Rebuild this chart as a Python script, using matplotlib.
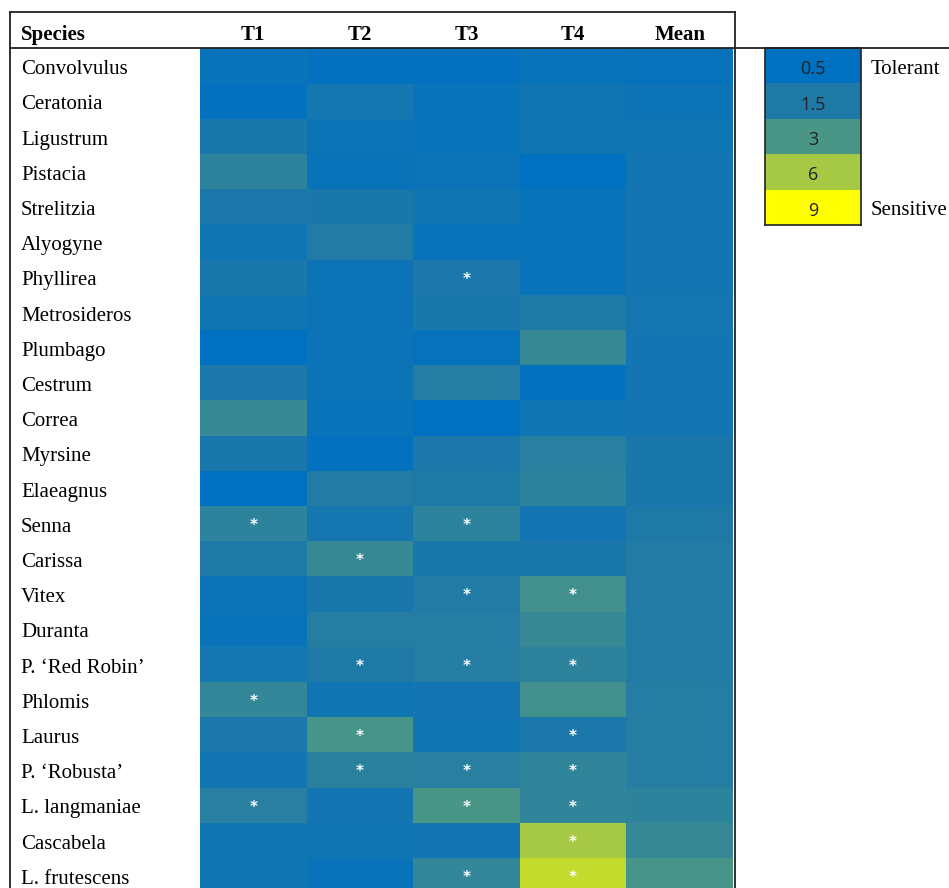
import numpy as np
import matplotlib
matplotlib.use("Agg")
import matplotlib.pyplot as plt
from matplotlib.colors import LinearSegmentedColormap, Normalize
from matplotlib.lines import Line2D

# Sensitivity scores per species for four treatments plus their mean
species = ["Convolvulus", "Ceratonia", "Ligustrum", "Pistacia", "Strelitzia",
           "Alyogyne", "Phyllirea", "Metrosideros", "Plumbago", "Cestrum",
           "Correa", "Myrsine", "Elaeagnus", "Senna", "Carissa", "Vitex",
           "Duranta", "P. \u2018Red Robin\u2019", "Phlomis", "Laurus",
           "P. \u2018Robusta\u2019", "L. langmaniae", "Cascabela", "L. frutescens"]
columns = ["T1", "T2", "T3", "T4", "Mean"]

t1 = [0.8, 0.6, 1.3, 2.0, 1.4, 1.0, 1.3, 1.0, 0.5, 1.4, 2.3, 1.3,
      0.4, 2.0, 1.5, 0.9, 0.8, 1.2, 2.2, 1.4, 1.1, 1.8, 1.0, 1.0]
t2 = [0.6, 1.2, 0.9, 0.8, 1.3, 1.6, 0.9, 0.9, 0.9, 0.9, 0.8, 0.6,
      1.6, 1.2, 2.3, 1.3, 1.7, 1.5, 1.0, 2.9, 1.9, 1.1, 1.0, 0.8]
t3 = [0.6, 0.8, 0.8, 0.9, 1.0, 0.8, 1.4, 1.3, 0.7, 1.7, 0.5, 1.4,
      1.5, 2.0, 1.3, 1.6, 1.7, 1.7, 1.1, 1.0, 1.8, 3.0, 1.1, 2.2]
t4 = [0.8, 1.0, 1.0, 0.5, 0.8, 0.8, 0.8, 1.5, 2.3, 0.6, 1.0, 1.8,
      2.0, 1.1, 1.3, 2.7, 2.3, 2.0, 2.7, 1.4, 2.1, 2.1, 6.0, 7.0]
mean = [0.7, 0.9, 1.0, 1.1, 1.1, 1.1, 1.1, 1.2, 1.1, 1.1, 1.1, 1.3,
        1.3, 1.5, 1.6, 1.6, 1.6, 1.6, 1.7, 1.7, 1.7, 2.0, 2.3, 2.9]

# cells flagged as significant (row, column)
significant = [(6, 2), (13, 0), (13, 2), (14, 1), (15, 2), (15, 3),
               (17, 1), (17, 2), (17, 3), (18, 0), (19, 1), (19, 3),
               (20, 1), (20, 2), (20, 3), (21, 0), (21, 2), (21, 3),
               (22, 3), (23, 2), (23, 3)]

legend_levels = [0.5, 1.5, 3, 6, 9]
legend_labels = ["0.5", "1.5", "3", "6", "9"]
scale_colors = ["#0070C0", "#1F79A7", "#4A9686", "#A5C944", "#FFFF00"]

vmin, vmax = legend_levels[0], legend_levels[-1]
stops = [(v - vmin) / (vmax - vmin) for v in legend_levels]
cmap = LinearSegmentedColormap.from_list("tol", list(zip(stops, scale_colors)))
norm = Normalize(vmin=vmin, vmax=vmax)

serif = "Liberation Serif"
fs = 15
W, H = 949, 888
fig = plt.figure(figsize=(W / 100, H / 100), dpi=100)

def fig_rect(x0, y0, x1, y1):
    # pixel box (top-left origin) -> figure fraction rect
    return [x0 / W, 1 - y1 / H, (x1 - x0) / W, (y1 - y0) / H]

row_h = 35.2
n_rows = len(species)
grid_top = 48.5
grid_bottom = grid_top + n_rows * row_h
text_dy = 0.1  # nudge labels down a touch inside their rows

# outer table frame
frame = fig.add_axes(fig_rect(10, 12, 735, grid_bottom), zorder=0)
frame.set_xticks([])
frame.set_yticks([])
frame.spines["bottom"].set_visible(False)
for s in ["left", "top", "right"]:
    frame.spines[s].set_linewidth(1.3)
    frame.spines[s].set_color("#222222")

# heatmap
ax = fig.add_axes(fig_rect(200, grid_top, 733, grid_bottom), zorder=1)
values = np.array([t1, t2, t3, t4, mean]).T
ax.pcolormesh(np.arange(len(columns) + 1), np.arange(n_rows + 1), values,
              cmap=cmap, norm=norm)
ax.set_xlim(0, len(columns))
ax.set_ylim(n_rows, 0)
ax.axis("off")

for r, c in significant:
    ax.text(c + 0.5, r + 0.55, "*", ha="center", va="center",
            color="white", fontsize=11, fontweight="bold", family="DejaVu Sans")

# species names and column headers
name_x = (21 - 200) / (533 / len(columns))
for i, name in enumerate(species):
    ax.text(name_x, i + 0.5 + text_dy, name, ha="left", va="center",
            fontsize=fs, family=serif, clip_on=False)
header_y = (31 - grid_top) / row_h + text_dy
ax.text(name_x, header_y, "Species", ha="left", va="center",
        fontsize=fs, fontweight="bold", family=serif, clip_on=False)
for j, col in enumerate(columns):
    ax.text(j + 0.5, header_y, col, ha="center", va="center",
            fontsize=fs, fontweight="bold", family=serif, clip_on=False)

# header rule running across to the right edge
fig.add_artist(Line2D([10 / W, 1], [1 - 48 / H, 1 - 48 / H],
                      color="#222222", lw=1.3))

# colour key
lax = fig.add_axes(fig_rect(765, 48, 861, 225), zorder=1)
lax.pcolormesh([0, 1], np.arange(len(legend_levels) + 1),
               np.array(legend_levels)[:, None], cmap=cmap, norm=norm)
lax.set_xlim(0, 1)
lax.set_ylim(len(legend_levels), 0)
lax.set_xticks([])
lax.set_yticks([])
for s in lax.spines.values():
    s.set_linewidth(1.2)
    s.set_color("#222222")
for i, lab in enumerate(legend_labels):
    lax.text(0.5, i + 0.5 + text_dy, lab, ha="center", va="center",
             fontsize=13, family="Open Sans", color="#222222")
lax.text(1.1, 0.5 + text_dy, "Tolerant", ha="left", va="center",
         fontsize=fs, family=serif, clip_on=False)
lax.text(1.1, len(legend_levels) - 0.5 + text_dy, "Sensitive", ha="left",
         va="center", fontsize=fs, family=serif, clip_on=False)

fig.savefig("out.png", dpi=100)
